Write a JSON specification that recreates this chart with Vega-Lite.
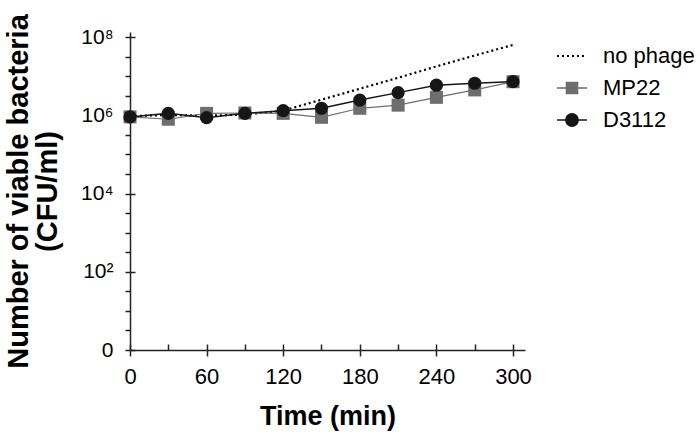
{
  "$schema": "https://vega.github.io/schema/vega-lite/v6.json",
  "width": 395,
  "height": 318,
  "autosize": "none",
  "padding": {"left": 130, "top": 32, "right": 175, "bottom": 84},
  "config": {
    "font": "Liberation Sans",
    "view": {"stroke": null},
    "axis": {"grid": false, "domainColor": "#222222", "domainWidth": 1.5, "tickColor": "#222222", "tickWidth": 1.5, "labelColor": "#000000", "titleColor": "#000000", "labelFlush": false, "labelOverlap": false}
  },
  "data": {
    "values": [
      {"time": 0, "series": "no phage", "cfu": 955000},
      {"time": 30, "series": "no phage", "cfu": 1023000},
      {"time": 60, "series": "no phage", "cfu": 977000},
      {"time": 90, "series": "no phage", "cfu": 1047000},
      {"time": 120, "series": "no phage", "cfu": 1318000},
      {"time": 150, "series": "no phage", "cfu": 2512000},
      {"time": 180, "series": "no phage", "cfu": 4786000},
      {"time": 210, "series": "no phage", "cfu": 9120000},
      {"time": 240, "series": "no phage", "cfu": 17780000},
      {"time": 270, "series": "no phage", "cfu": 33880000},
      {"time": 300, "series": "no phage", "cfu": 63100000},
      {"time": 0, "series": "MP22", "cfu": 912000},
      {"time": 30, "series": "MP22", "cfu": 794000},
      {"time": 60, "series": "MP22", "cfu": 1122000},
      {"time": 90, "series": "MP22", "cfu": 1148000},
      {"time": 120, "series": "MP22", "cfu": 1122000},
      {"time": 150, "series": "MP22", "cfu": 891000},
      {"time": 180, "series": "MP22", "cfu": 1514000},
      {"time": 210, "series": "MP22", "cfu": 1820000},
      {"time": 240, "series": "MP22", "cfu": 2884000},
      {"time": 270, "series": "MP22", "cfu": 4467000},
      {"time": 300, "series": "MP22", "cfu": 7244000},
      {"time": 0, "series": "D3112", "cfu": 912000},
      {"time": 30, "series": "D3112", "cfu": 1122000},
      {"time": 60, "series": "D3112", "cfu": 871000},
      {"time": 90, "series": "D3112", "cfu": 1122000},
      {"time": 120, "series": "D3112", "cfu": 1318000},
      {"time": 150, "series": "D3112", "cfu": 1514000},
      {"time": 180, "series": "D3112", "cfu": 2455000},
      {"time": 210, "series": "D3112", "cfu": 3802000},
      {"time": 240, "series": "D3112", "cfu": 5888000},
      {"time": 270, "series": "D3112", "cfu": 6607000},
      {"time": 300, "series": "D3112", "cfu": 7244000}
    ]
  },
  "encoding": {
    "x": {"field": "time", "type": "quantitative", "scale": {"domain": [0, 309.4], "nice": false, "zero": false}, "axis": null},
    "y": {"field": "cfu", "type": "quantitative", "scale": {"type": "log", "domain": [1, 135000000], "nice": false}, "axis": null},
    "color": {
      "field": "series", "type": "nominal",
      "scale": {"domain": ["no phage", "MP22", "D3112"], "range": ["#000000", "#6e6e6e", "#161616"]},
      "legend": {
        "orient": "none", "legendX": 431, "legendY": 13, "title": null,
        "labelFontSize": 22, "labelColor": "#000000", "labelOffset": 20,
        "symbolSize": 900, "symbolStrokeWidth": 1.5, "rowPadding": 10, "padding": 0,
        "encode": {
          "symbols": {
            "update": {
              "shape": {"signal": "datum.value === 'no phage' ? 'M-1,0H1' : datum.value === 'MP22' ? 'M-1,0H1M-0.37,-0.37H0.37V0.37H-0.37Z' : 'M-1,0H1M0.41,0A0.41,0.41,0,1,1,-0.41,0A0.41,0.41,0,1,1,0.41,0Z'"},
              "fill": {"signal": "datum.value === 'no phage' ? 'transparent' : datum.value === 'MP22' ? '#6e6e6e' : '#161616'"},
              "stroke": {"signal": "datum.value === 'no phage' ? '#000000' : datum.value === 'MP22' ? '#6e6e6e' : '#161616'"},
              "strokeDash": {"signal": "datum.value === 'no phage' ? [2, 3] : null"},
              "strokeWidth": {"signal": "datum.value === 'no phage' ? 2 : 1.5"},
              "opacity": {"value": 1}
            }
          }
        }
      }
    }
  },
  "layer": [
    {
      "transform": [{"filter": "datum.series === 'no phage'"}],
      "mark": {"type": "line", "strokeWidth": 2.2, "strokeDash": [2, 3]},
      "encoding": {
        "x": {"field": "time", "type": "quantitative", "axis": {
          "orient": "bottom", "values": [0, 60, 120, 180, 240, 300], "tickSize": 6,
          "labelFontSize": 22, "labelPadding": 10, "title": "Time (min)", "titleFontSize": 27, "titleFontWeight": "bold", "titlePadding": 16
        }},
        "y": {"field": "cfu", "type": "quantitative", "axis": {
          "orient": "left",
          "values": [1, 3.16228, 10, 31.6228, 100, 316.228, 1000, 3162.28, 10000, 31622.8, 100000, 316228, 1000000, 3162278, 10000000, 31622777, 100000000],
          "tickSize": 5,
          "labelExpr": "datum.value == 1 ? '0' : datum.value == 100 ? '10²' : datum.value == 10000 ? '10⁴' : datum.value == 1000000 ? '10⁶' : datum.value == 100000000 ? '10⁸' : ''",
          "labelFontSize": 21, "labelPadding": 12,
          "title": ["Number of viable bacteria", "(CFU/ml)"], "titleFontSize": 29, "titleFontWeight": "bold", "titleLineHeight": 29,
          "titleAngle": -90, "titleX": -112, "titleY": 159, "titleAlign": "center", "titleBaseline": "middle"
        }}
      }
    },
    {
      "transform": [{"filter": "datum.series === 'MP22'"}],
      "mark": {"type": "line", "strokeWidth": 1.2},
      "encoding": {
        "x": {"field": "time", "type": "quantitative", "axis": {
          "orient": "bottom", "values": [0, 30, 60, 90, 120, 150, 180, 210, 240, 270, 300], "tickSize": -6,
          "labels": false, "domain": false, "title": null
        }},
        "y": {"field": "cfu", "type": "quantitative", "axis": {
          "orient": "left", "values": [1, 100, 10000, 1000000, 100000000], "tickSize": -5,
          "labels": false, "domain": false, "title": null
        }}
      }
    },
    {
      "transform": [{"filter": "datum.series === 'MP22'"}],
      "mark": {"type": "point", "shape": "square", "filled": true, "size": 170, "opacity": 1}
    },
    {
      "transform": [{"filter": "datum.series === 'D3112'"}],
      "mark": {"type": "line", "strokeWidth": 1.5}
    },
    {
      "transform": [{"filter": "datum.series === 'D3112'"}],
      "mark": {"type": "point", "shape": "circle", "filled": true, "size": 175, "opacity": 1}
    }
  ],
  "resolve": {"axis": {"x": "independent", "y": "independent"}}
}
